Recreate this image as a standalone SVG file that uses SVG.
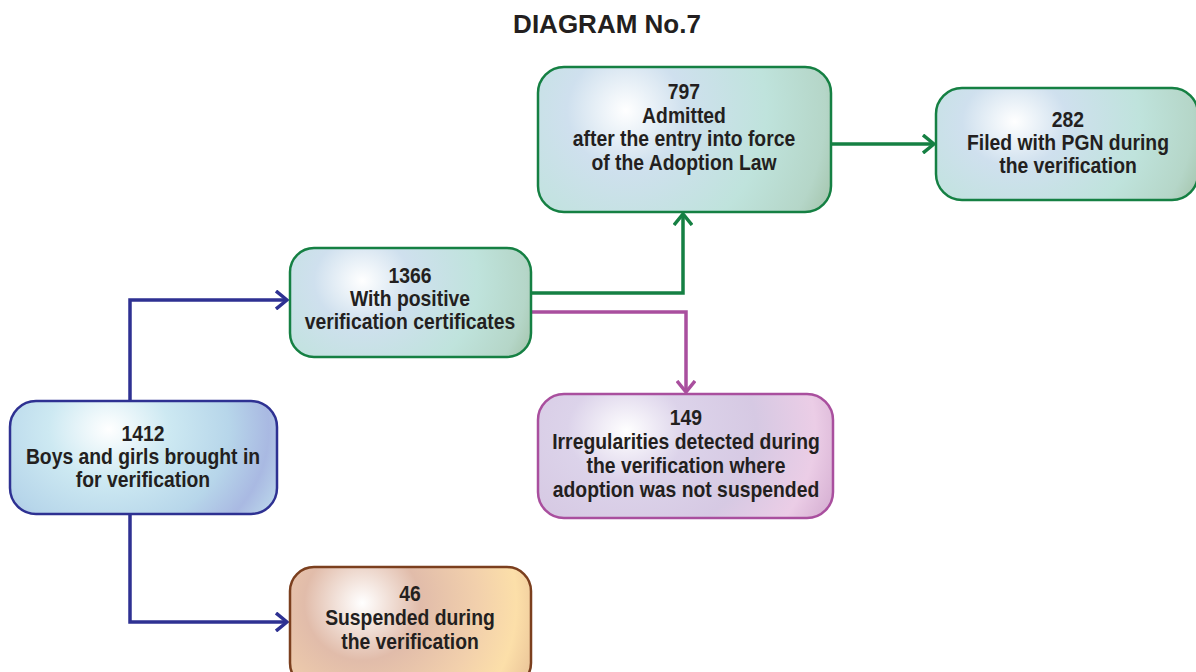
<svg xmlns="http://www.w3.org/2000/svg" width="1196" height="672" viewBox="0 0 1196 672">
<style>
.t{font-family:"Liberation Sans",Arial,sans-serif;font-weight:bold;font-size:22.5px;fill:#231f20;text-anchor:middle}
.title{font-family:"Liberation Sans",Arial,sans-serif;font-weight:bold;font-size:26px;fill:#231f20;text-anchor:middle}
.box{stroke-width:2.5}
.c{fill:none;stroke-width:3.5}
</style>
<defs>
<radialGradient id="gBlue" cx="0.37" cy="0.25" r="0.75" gradientTransform="translate(0.37,0.25) scale(1,2) translate(-0.37,-0.25)">
<stop offset="0" stop-color="#ffffff"/>
<stop offset="0.3" stop-color="#cde9f2"/>
<stop offset="0.6" stop-color="#b7d6ea"/>
<stop offset="0.8" stop-color="#a9b9e2"/>
<stop offset="1" stop-color="#c2e2ee"/>
</radialGradient>
<radialGradient id="gGreen" cx="0.3" cy="0.3" r="0.8" gradientTransform="translate(0.3,0.3) scale(1,2) translate(-0.3,-0.3)">
<stop offset="0" stop-color="#ffffff"/>
<stop offset="0.25" stop-color="#cfe0ee"/>
<stop offset="0.6" stop-color="#bfe3dc"/>
<stop offset="0.85" stop-color="#b5d6c8"/>
<stop offset="1" stop-color="#9fbfa4"/>
</radialGradient>
<radialGradient id="gPurple" cx="0.3" cy="0.3" r="0.8" gradientTransform="translate(0.3,0.3) scale(1,2) translate(-0.3,-0.3)">
<stop offset="0" stop-color="#ffffff"/>
<stop offset="0.25" stop-color="#dcd3ea"/>
<stop offset="0.55" stop-color="#d6c9e3"/>
<stop offset="0.8" stop-color="#ebcde6"/>
<stop offset="1" stop-color="#cfa6cc"/>
</radialGradient>
<radialGradient id="gOrange" cx="0.3" cy="0.3" r="0.8" gradientTransform="translate(0.3,0.3) scale(1,2) translate(-0.3,-0.3)">
<stop offset="0" stop-color="#ffffff"/>
<stop offset="0.3" stop-color="#e1bcaa"/>
<stop offset="0.6" stop-color="#f2d0ac"/>
<stop offset="0.8" stop-color="#fcdfa9"/>
<stop offset="1" stop-color="#e4bb93"/>
</radialGradient>
<marker id="aBlue" markerWidth="14" markerHeight="20" refX="12" refY="10" orient="auto" markerUnits="userSpaceOnUse">
<path d="M1,1 L12,10 L1,19" fill="none" stroke="#2e3192" stroke-width="3.5"/>
</marker>
<marker id="aGreen" markerWidth="14" markerHeight="20" refX="12" refY="10" orient="auto" markerUnits="userSpaceOnUse">
<path d="M1,1 L12,10 L1,19" fill="none" stroke="#158043" stroke-width="3.5"/>
</marker>
<marker id="aPurple" markerWidth="14" markerHeight="20" refX="12" refY="10" orient="auto" markerUnits="userSpaceOnUse">
<path d="M1,1 L12,10 L1,19" fill="none" stroke="#a94f9e" stroke-width="3.5"/>
</marker>
</defs>
<rect width="1196" height="672" fill="#ffffff"/>
<text class="title" x="607" y="33">DIAGRAM No.7</text>

<g id="connectors">
<path class="c" stroke="#2e3192" d="M130,401 V300 H287" marker-end="url(#aBlue)"/>
<path class="c" stroke="#2e3192" d="M130,514 V622 H287" marker-end="url(#aBlue)"/>
<path class="c" stroke="#158043" d="M531,293 H683 V214" marker-end="url(#aGreen)"/>
<path class="c" stroke="#a94f9e" d="M531,312 H686 V392" marker-end="url(#aPurple)"/>
<path class="c" stroke="#158043" d="M831,144 H934" marker-end="url(#aGreen)"/>
</g>

<g id="n1412">
<rect class="box" x="10" y="401" width="267" height="113" rx="26" fill="url(#gBlue)" stroke="#2e3192"/>
<g transform="matrix(0.86 0 0 1 20.02 0)">
<text class="t" x="143" y="441">1412</text>
<text class="t" x="143" y="464">Boys and girls brought in</text>
<text class="t" x="143" y="487">for verification</text>
</g>
</g>

<g id="n1366">
<rect class="box" x="290" y="248" width="241" height="109" rx="24" fill="url(#gGreen)" stroke="#158043"/>
<g transform="matrix(0.86 0 0 1 57.4 0)">
<text class="t" x="410" y="283">1366</text>
<text class="t" x="410" y="306">With positive</text>
<text class="t" x="410" y="329">verification certificates</text>
</g>
</g>

<g id="n797">
<rect class="box" x="538" y="67" width="293" height="145" rx="26" fill="url(#gGreen)" stroke="#158043"/>
<g transform="matrix(0.86 0 0 1 95.76 0)">
<text class="t" x="684" y="99">797</text>
<text class="t" x="684" y="123">Admitted</text>
<text class="t" x="684" y="146">after the entry into force</text>
<text class="t" x="684" y="170">of the Adoption Law</text>
</g>
</g>

<g id="n282">
<rect class="box" x="936" y="88" width="262" height="112" rx="26" fill="url(#gGreen)" stroke="#158043"/>
<g transform="matrix(0.86 0 0 1 149.52 0)">
<text class="t" x="1068" y="127">282</text>
<text class="t" x="1068" y="150">Filed with PGN during</text>
<text class="t" x="1068" y="173">the verification</text>
</g>
</g>

<g id="n149">
<rect class="box" x="538" y="394" width="295" height="124" rx="26" fill="url(#gPurple)" stroke="#a94f9e"/>
<g transform="matrix(0.86 0 0 1 96.04 0)">
<text class="t" x="686" y="425">149</text>
<text class="t" x="686" y="449">Irregularities detected during</text>
<text class="t" x="686" y="473">the verification where</text>
<text class="t" x="686" y="497">adoption was not suspended</text>
</g>
</g>

<g id="n46">
<rect class="box" x="290" y="567" width="241" height="120" rx="24" fill="url(#gOrange)" stroke="#7b3f1e"/>
<g transform="matrix(0.86 0 0 1 57.4 0)">
<text class="t" x="410" y="601">46</text>
<text class="t" x="410" y="625">Suspended during</text>
<text class="t" x="410" y="649">the verification</text>
</g>
</g>
</svg>
